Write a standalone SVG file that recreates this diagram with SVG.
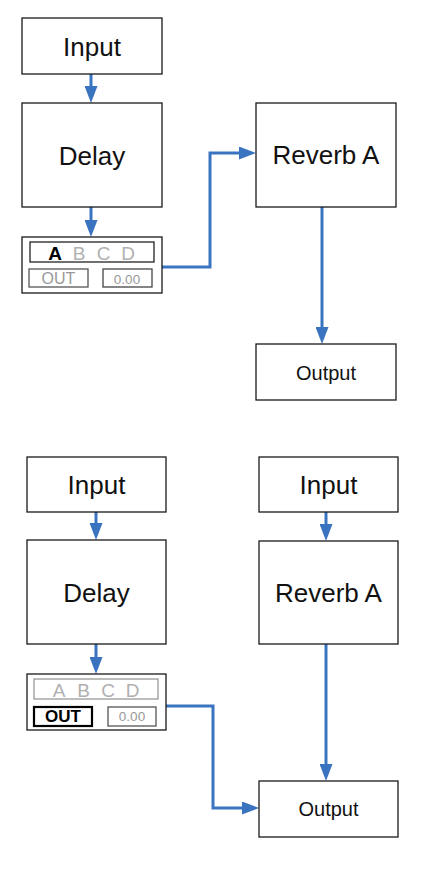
<svg xmlns="http://www.w3.org/2000/svg" width="421" height="872" viewBox="0 0 421 872">
<style>
  .box{fill:#fff;stroke:#1a1a1a;stroke-width:1.3}
  .lbl{font-family:"Liberation Sans",Arial,sans-serif;font-size:26px;fill:#111;text-anchor:middle}
  .out{font-size:20px}
  .sub{fill:#fff;stroke:#222;stroke-width:1.3}
  .subg{fill:#fff;stroke:#999;stroke-width:1.3}
  .subb{fill:#fff;stroke:#000;stroke-width:2.2}
  .let{font-family:"Liberation Sans",Arial,sans-serif;font-size:19px;fill:#b0b0b0;text-anchor:middle}
  .on{fill:#000;font-weight:bold}
  .sm{font-family:"Liberation Sans",Arial,sans-serif;font-size:16px;fill:#999;text-anchor:middle}
  .num{font-size:13.5px;fill:#999}
  .onb{fill:#000;font-weight:bold;font-size:17px}
  .conn{fill:none;stroke:#3a74c0;stroke-width:3;marker-end:url(#arr)}
</style>
<defs>
  <marker id="arr" viewBox="0 0 17 13" refX="12" refY="6.5" markerWidth="17" markerHeight="13" markerUnits="userSpaceOnUse" orient="auto">
    <path d="M0,0 L17,6.5 L0,13 z" fill="#3a74c0"/>
  </marker>
</defs>

<g id="connectors">
  <path class="conn" d="M91,74 V98"/>
  <path class="conn" d="M91,207 V232"/>
  <path class="conn" d="M162,267 H210 V153 H251"/>
  <path class="conn" d="M322,207 V339"/>
  <path class="conn" d="M96,512 V535"/>
  <path class="conn" d="M96,644 V669"/>
  <path class="conn" d="M166,706 H213 V808 H254"/>
  <path class="conn" d="M326,512 V536"/>
  <path class="conn" d="M326,644 V776"/>
</g>

<g id="input1">
  <rect class="box" x="22" y="18" width="140" height="56"/>
  <text class="lbl" x="92" y="56">Input</text>
</g>
<g id="delay1">
  <rect class="box" x="22" y="103" width="140" height="104"/>
  <text class="lbl" x="92" y="165">Delay</text>
</g>
<g id="panel1">
  <rect class="box" x="22" y="237" width="140" height="56"/>
  <rect class="sub" x="30" y="242" width="124" height="20"/>
  <text class="let on" x="55" y="260">A</text>
  <text class="let" x="79" y="260">B</text>
  <text class="let" x="103.5" y="260">C</text>
  <text class="let" x="128" y="260">D</text>
  <rect class="sub" x="29" y="269" width="59" height="18" style="stroke:#555"/>
  <text class="sm" x="58.5" y="284">OUT</text>
  <rect class="sub" x="103" y="269" width="49" height="18" style="stroke:#444"/>
  <text class="sm num" x="127" y="284">0.00</text>
</g>
<g id="reverb1">
  <rect class="box" x="256" y="103" width="140" height="104"/>
  <text class="lbl" x="326" y="164">Reverb A</text>
</g>
<g id="output1">
  <rect class="box" x="256" y="344" width="140" height="56"/>
  <text class="lbl out" x="326" y="380">Output</text>
</g>

<g id="input2">
  <rect class="box" x="27" y="457" width="139" height="55"/>
  <text class="lbl" x="96.5" y="494">Input</text>
</g>
<g id="delay2">
  <rect class="box" x="27" y="540" width="139" height="104"/>
  <text class="lbl" x="96.5" y="602">Delay</text>
</g>
<g id="panel2">
  <rect class="box" x="27" y="674" width="139" height="56"/>
  <rect class="subg" x="34" y="679" width="124" height="20"/>
  <text class="let" x="59" y="697">A</text>
  <text class="let" x="83.5" y="697">B</text>
  <text class="let" x="108" y="697">C</text>
  <text class="let" x="132.5" y="697">D</text>
  <rect class="subb" x="34" y="707" width="58" height="19"/>
  <text class="sm onb" x="63" y="722">OUT</text>
  <rect class="sub" x="108" y="707" width="48" height="19" style="stroke:#555"/>
  <text class="sm num" x="132" y="721">0.00</text>
</g>
<g id="input3">
  <rect class="box" x="259" y="457" width="139" height="55"/>
  <text class="lbl" x="328.5" y="494">Input</text>
</g>
<g id="reverb2">
  <rect class="box" x="259" y="541" width="139" height="103"/>
  <text class="lbl" x="328.5" y="602">Reverb A</text>
</g>
<g id="output2">
  <rect class="box" x="259" y="781" width="139" height="56"/>
  <text class="lbl out" x="328.5" y="816">Output</text>
</g>
</svg>
